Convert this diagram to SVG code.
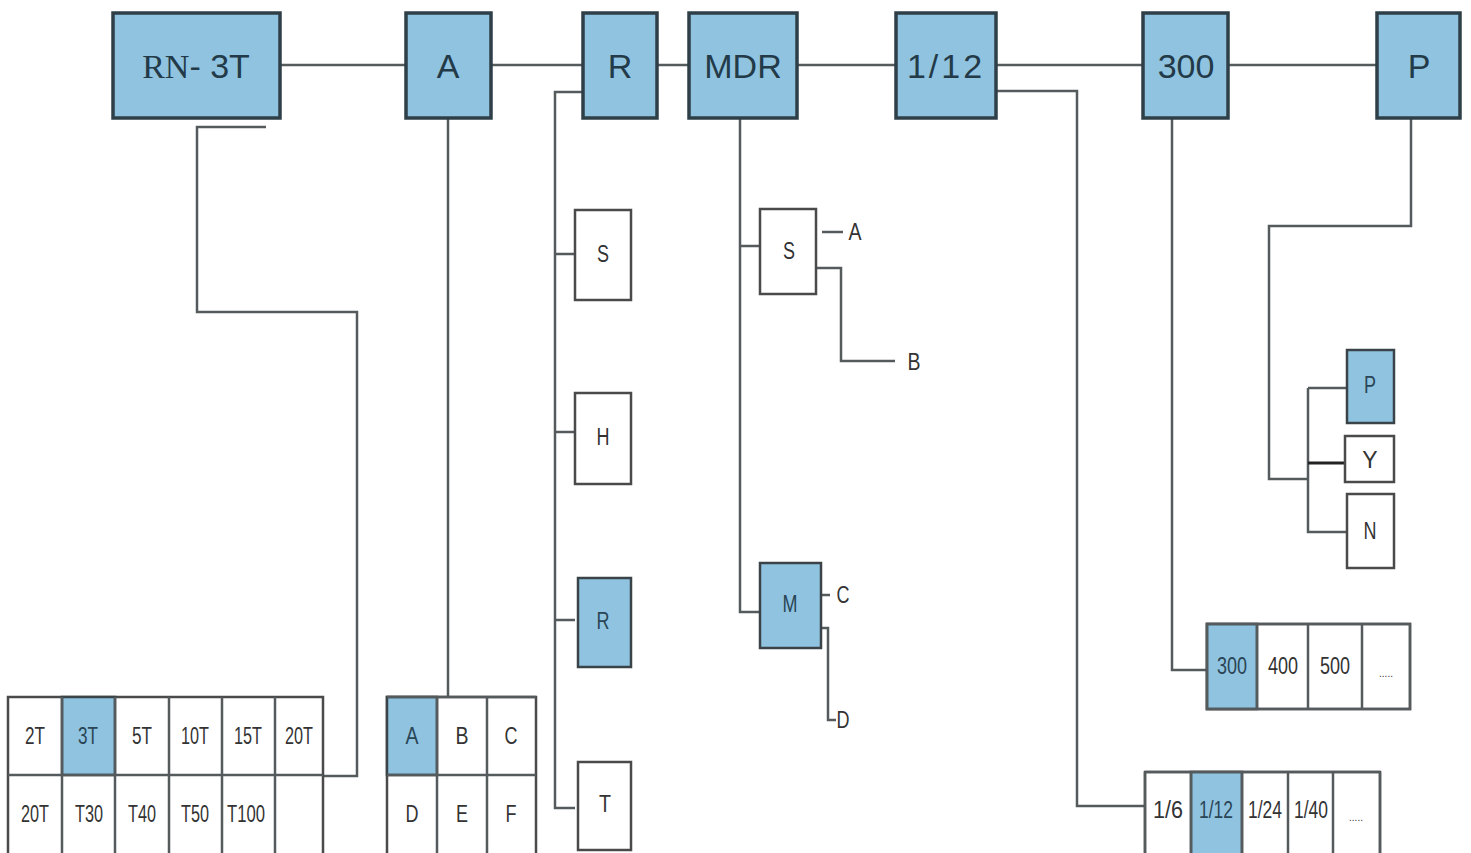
<svg xmlns="http://www.w3.org/2000/svg" width="1471" height="853" viewBox="0 0 1471 853">
<style>
.top{fill:#8fc3e0;stroke:#2e3f48;stroke-width:3.5}
.bl{fill:#8fc3e0;stroke:#3a4348;stroke-width:2.5}
.wh{fill:#ffffff;stroke:#4a4a4a;stroke-width:2.5}
.ln{fill:none;stroke:#555a5c;stroke-width:2.5}
.tt{font-family:"Liberation Sans",Arial,sans-serif;font-size:34px;fill:#233a48;text-anchor:middle;dominant-baseline:central}
.st{font-family:"Liberation Sans",Arial,sans-serif;font-size:23px;fill:#333;text-anchor:middle;dominant-baseline:central}
.sb{font-family:"Liberation Sans",Arial,sans-serif;font-size:23px;fill:#2a4555;text-anchor:middle;dominant-baseline:central}
</style>
<rect width="1471" height="853" fill="#ffffff"/>
<g id="connectors">
<path class="ln" d="M280 65H406M491 65H583M657 65H689M797 65H896M996 65H1143M1228 65H1377"/>
<path class="ln" d="M266 127H197V312H357V776H323"/>
<path class="ln" d="M448 118V697"/>
<path class="ln" d="M583 92H555V808H575M555 254H575M555 432H575M555 620H575"/>
<path class="ln" d="M740 118V612H760M740 246H760"/>
<path class="ln" d="M822 232H843M816 268H841V361H895"/>
<path class="ln" d="M821 595H830M821 628H828V720H836"/>
<path class="ln" d="M996 91H1077V806H1145"/>
<path class="ln" d="M1172 118V670H1207"/>
<path class="ln" d="M1411 118V226H1269V479H1308M1308 388V532H1347M1308 388H1346"/>
<path fill="none" stroke="#222" stroke-width="3" d="M1308 463H1345"/>
</g>
<g id="n-rn3t"><rect class="top" x="113" y="13" width="167" height="105"/><text x="196" y="66" class="tt" font-size="32"><tspan font-family="Liberation Serif,serif">RN</tspan>- 3T</text></g>
<g id="n-a"><rect class="top" x="406" y="13" width="85" height="105"/><text x="448" y="66" class="tt">A</text></g>
<g id="n-r"><rect class="top" x="583" y="13" width="74" height="105"/><text x="620" y="66" class="tt">R</text></g>
<g id="n-mdr"><rect class="top" x="689" y="13" width="108" height="105"/><text x="743" y="66" class="tt">MDR</text></g>
<g id="n-112"><rect class="top" x="896" y="13" width="100" height="105"/><text x="946" y="66" class="tt" letter-spacing="3">1/12</text></g>
<g id="n-300"><rect class="top" x="1143" y="13" width="85" height="105"/><text x="1186" y="66" class="tt">300</text></g>
<g id="n-p"><rect class="top" x="1377" y="13" width="83" height="105"/><text x="1419" y="66" class="tt">P</text></g>

<g id="n-r-s"><rect class="wh" x="575" y="210" width="56" height="90"/><text x="603" y="254" class="st" textLength="12" lengthAdjust="spacingAndGlyphs">S</text></g>
<g id="n-r-h"><rect class="wh" x="575" y="393" width="56" height="91"/><text x="603" y="437" class="st" textLength="13" lengthAdjust="spacingAndGlyphs">H</text></g>
<g id="n-r-r"><rect class="bl" x="578" y="578" width="53" height="89"/><text x="603" y="621" class="sb" textLength="13" lengthAdjust="spacingAndGlyphs">R</text></g>
<g id="n-r-t"><rect class="wh" x="578" y="762" width="53" height="88"/><text x="605" y="804" class="st" textLength="12" lengthAdjust="spacingAndGlyphs">T</text></g>

<g id="n-m-s"><rect class="wh" x="760" y="209" width="56" height="85"/><text x="789" y="251" class="st" textLength="12" lengthAdjust="spacingAndGlyphs">S</text></g>
<g id="n-m-m"><rect class="bl" x="760" y="563" width="61" height="85"/><text x="790" y="604" class="sb" textLength="15" lengthAdjust="spacingAndGlyphs">M</text></g>
<g id="lbl-a"><text x="855" y="232" class="st" textLength="13" lengthAdjust="spacingAndGlyphs">A</text></g>
<g id="lbl-b"><text x="914" y="362" class="st" textLength="13" lengthAdjust="spacingAndGlyphs">B</text></g>
<g id="lbl-c"><text x="843" y="595" class="st" textLength="13" lengthAdjust="spacingAndGlyphs">C</text></g>
<g id="lbl-d"><text x="843" y="720" class="st" textLength="13" lengthAdjust="spacingAndGlyphs">D</text></g>

<g id="n-p-p"><rect class="bl" x="1347" y="350" width="47" height="73"/><text x="1370" y="385" class="sb" textLength="12" lengthAdjust="spacingAndGlyphs">P</text></g>
<g id="n-p-y"><rect class="wh" x="1345" y="436" width="49" height="46"/><text x="1370" y="460" class="st" font-size="30" fill="#222">Y</text></g>
<g id="n-p-n"><rect class="wh" x="1347" y="494" width="47" height="74"/><text x="1370" y="531" class="st" textLength="13" lengthAdjust="spacingAndGlyphs">N</text></g>

<g id="t-model">
<rect class="wh" x="8" y="697" width="315" height="160"/>
<rect class="bl" x="62" y="697" width="53" height="78" stroke-width="0"/>
<path class="ln" stroke="#444" d="M8 775H323M62 697V857M115 697V857M169 697V857M222 697V857M275 697V857"/>
<g class="st" font-size="22">
<text x="35" y="736" textLength="20" lengthAdjust="spacingAndGlyphs">2T</text>
<text x="88" y="736" class="sb" textLength="20" lengthAdjust="spacingAndGlyphs">3T</text>
<text x="142" y="736" textLength="20" lengthAdjust="spacingAndGlyphs">5T</text>
<text x="195" y="736" textLength="28" lengthAdjust="spacingAndGlyphs">10T</text>
<text x="248" y="736" textLength="28" lengthAdjust="spacingAndGlyphs">15T</text>
<text x="299" y="736" textLength="28" lengthAdjust="spacingAndGlyphs">20T</text>
<text x="35" y="814" textLength="28" lengthAdjust="spacingAndGlyphs">20T</text>
<text x="89" y="814" textLength="28" lengthAdjust="spacingAndGlyphs">T30</text>
<text x="142" y="814" textLength="28" lengthAdjust="spacingAndGlyphs">T40</text>
<text x="195" y="814" textLength="28" lengthAdjust="spacingAndGlyphs">T50</text>
<text x="246" y="814" textLength="38" lengthAdjust="spacingAndGlyphs">T100</text>
</g>
</g>

<g id="t-abc">
<rect class="wh" x="387" y="697" width="149" height="160"/>
<rect class="bl" x="387" y="697" width="50" height="78" stroke-width="0"/>
<path class="ln" stroke="#444" d="M387 697H536M387 775H536M437 697V857M487 697V857"/>
<g class="st" font-size="23">
<text x="412" y="736" class="sb" textLength="13" lengthAdjust="spacingAndGlyphs">A</text>
<text x="462" y="736" textLength="13" lengthAdjust="spacingAndGlyphs">B</text>
<text x="511" y="736" textLength="13" lengthAdjust="spacingAndGlyphs">C</text>
<text x="412" y="814" textLength="13" lengthAdjust="spacingAndGlyphs">D</text>
<text x="462" y="814" textLength="12" lengthAdjust="spacingAndGlyphs">E</text>
<text x="511" y="814" textLength="11" lengthAdjust="spacingAndGlyphs">F</text>
</g>
</g>

<g id="t-300">
<rect class="wh" x="1207" y="624" width="203" height="85"/>
<rect class="bl" x="1207" y="624" width="50" height="85" stroke-width="0"/>
<path class="ln" stroke="#444" d="M1207 624H1410V709H1207ZM1257 624V709M1308 624V709M1362 624V709"/>
<g class="st" font-size="23">
<text x="1232" y="666" class="sb" textLength="30" lengthAdjust="spacingAndGlyphs">300</text>
<text x="1283" y="666" textLength="30" lengthAdjust="spacingAndGlyphs">400</text>
<text x="1335" y="666" textLength="30" lengthAdjust="spacingAndGlyphs">500</text>
<text x="1386" y="673" font-size="10">.....</text>
</g>
</g>

<g id="t-ratio">
<rect class="wh" x="1145" y="772" width="235" height="85"/>
<rect class="bl" x="1191" y="772" width="51" height="85" stroke-width="0"/>
<path class="ln" stroke="#444" d="M1145 772H1380M1145 772V857M1380 772V857M1191 772V857M1242 772V857M1288 772V857M1333 772V857"/>
<g class="st" font-size="23">
<text x="1168" y="810" textLength="30" lengthAdjust="spacingAndGlyphs">1/6</text>
<text x="1216" y="810" class="sb" textLength="34" lengthAdjust="spacingAndGlyphs">1/12</text>
<text x="1265" y="810" textLength="34" lengthAdjust="spacingAndGlyphs">1/24</text>
<text x="1311" y="810" textLength="34" lengthAdjust="spacingAndGlyphs">1/40</text>
<text x="1356" y="817" font-size="10">.....</text>
</g>
</g>
</svg>
